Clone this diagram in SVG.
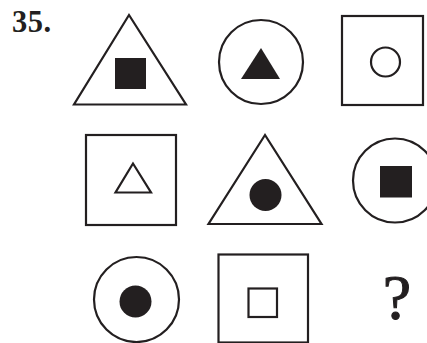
<svg xmlns="http://www.w3.org/2000/svg" width="427" height="343" viewBox="0 0 427 343">
<style>
.o{fill:none;stroke:#231f20;stroke-width:2.2}
.f{fill:#231f20;stroke:none}
.t{font-family:"Liberation Serif","Times New Roman",serif;fill:#231f20}
</style>
<rect width="427" height="343" fill="#fff"/>
<text class="t" x="12" y="32.3" font-size="30.5" font-weight="bold" letter-spacing="0.5">35.</text>
<g id="r1c1"><polygon class="o" points="129,15 74,104.5 186,104.5"/><rect class="f" x="115" y="58" width="31" height="31"/></g>
<g id="r1c2"><circle class="o" cx="261" cy="62" r="42"/><polygon class="f" points="261,48 241,79 280,79"/></g>
<g id="r1c3"><rect class="o" x="342" y="16" width="81" height="89"/><circle class="o" cx="385.5" cy="62" r="14.5"/></g>
<g id="r2c1"><rect class="o" x="86" y="135" width="90" height="90"/><polygon class="o" points="133,163.5 115.5,192.5 151,192.5"/></g>
<g id="r2c2"><polygon class="o" points="265,135 208.5,224 321.5,224"/><circle class="f" cx="265.5" cy="195" r="16"/></g>
<g id="r2c3"><circle class="o" cx="395" cy="180.5" r="42"/><rect class="f" x="380" y="166" width="32" height="31.5"/></g>
<g id="r3c1"><circle class="o" cx="136.5" cy="299.5" r="42.5"/><circle class="f" cx="135.5" cy="301.5" r="16"/></g>
<g id="r3c2"><rect class="o" x="218.5" y="254.5" width="89.5" height="88"/><rect class="o" x="248.5" y="288.5" width="28.5" height="28.5"/></g>
<g id="r3c3"><text class="t" x="397" y="319" font-size="64" text-anchor="middle" stroke="#231f20" stroke-width="1">?</text></g>
</svg>
